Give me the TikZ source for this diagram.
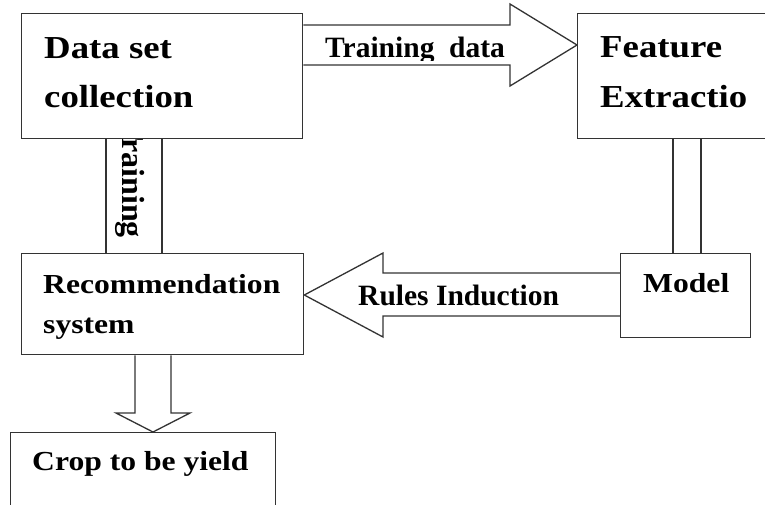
\documentclass[tikz,border=0pt]{standalone}
\usepackage{fontspec}
\setmainfont{Liberation Serif}
\newfontfamily\wide[FakeStretch=1.15]{Liberation Serif}
\usetikzlibrary{backgrounds}
\begin{document}
\begin{tikzpicture}[x=1pt,y=-1pt,
 box/.style={draw=black!80, line width=1.3pt, fill=white, rectangle, inner sep=0pt, anchor=north west},
 blk/.style={draw=black!80, line width=1.3pt, fill=white, line join=miter},
 conn/.style={draw=black!80, line width=1.3pt},
 big/.style={font=\wide\bfseries\fontsize{32}{32}\selectfont, inner sep=0pt, anchor=base west},
 mid/.style={font=\wide\bfseries\fontsize{27.5}{27.5}\selectfont, inner sep=0pt, anchor=base west},
 lab/.style={font=\bfseries\fontsize{29.5}{29.5}\selectfont, inner sep=0pt, anchor=base west}]
\useasboundingbox (0,0) rectangle (765,504);
\clip (0,0) rectangle (765,504);

% vertical label (its first letter hidden under the data box)
\node[lab, font=\bfseries\fontsize{32}{32}\selectfont, anchor=base east, rotate=-90] (trv) at (122,238) {Training};

% boxes
\node[box, minimum width=281pt, minimum height=125pt] (data) at (21,13) {};
\node[box, minimum width=200pt, minimum height=125pt] (feat) at (577,13) {};
\node[box, minimum width=130pt, minimum height=84pt] (model) at (620,253) {};
\node[box, minimum width=282pt, minimum height=101pt] (rec) at (21,253) {};
\node[box, minimum width=265pt, minimum height=90pt] (crop) at (10,432) {};

% texts
\node[big] (dataA) at (44,58) {Data set};
\node[big] (dataB) at (44,107) {collection};
\node[big] (featA) at (600,57) {Feature};
\node[big] (featB) at (600,107) {Extractio};
\node[mid] (modelT) at (643,292) {Model};
\node[mid] (recA) at (43,293) {Recommendation};
\node[mid] (recB) at (43,333) {system};
\node[mid] (cropT) at (32,470) {Crop to be yield};

\begin{pgfonlayer}{background}
% Training data arrow
\draw[blk] (data.east |- 0,25) -- (510,25) -- (510,4) -- (feat.west |- 0,45) -- (510,86) -- (510,65) -- (data.east |- 0,65);
% Rules induction arrow
\draw[blk] (model.west |- 0,273) -- (383,273) -- (383,253) -- (rec.east |- 0,295) -- (383,337) -- (383,316) -- (model.west |- 0,316);
% down arrow
\draw[blk] (135,0 |- rec.south) -- (135,413) -- (116,413) -- (153,0 |- crop.north) -- (190,413) -- (171,413) -- (171,0 |- rec.south);
% double lines
\draw[conn] (106,0 |- data.south) -- (106,0 |- rec.north);
\draw[conn] (162,0 |- data.south) -- (162,0 |- rec.north);
\draw[conn] (673,0 |- feat.south) -- (673,0 |- model.north);
\draw[conn] (701,0 |- feat.south) -- (701,0 |- model.north);
\end{pgfonlayer}

\begin{scope}
\clip (302,25) rectangle (510,60);
\node[lab] (tdlab) at (325,57) {Training\ \ data};
\end{scope}
\node[lab] (rules) at (358,305) {Rules Induction};
\end{tikzpicture}
\end{document}
